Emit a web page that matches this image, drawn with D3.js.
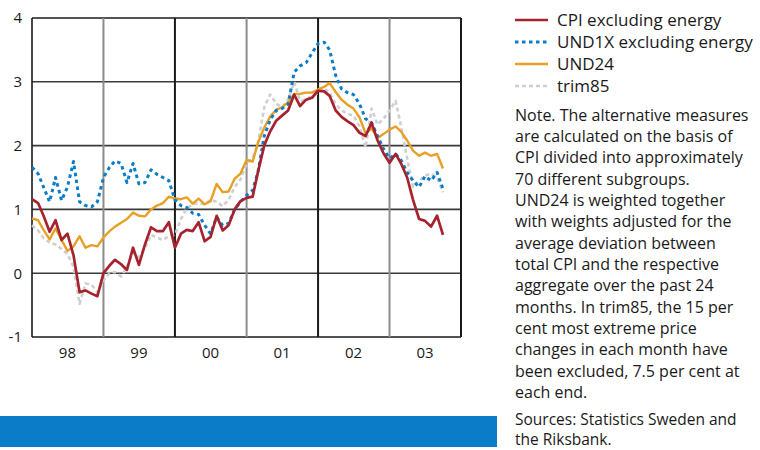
<!DOCTYPE html>
<html>
<head>
<meta charset="utf-8">
<script src="https://cdn.jsdelivr.net/npm/d3@7"></script>
<style>
  body { margin: 0; background: #fff; }
  text { font-family: "Open Sans", sans-serif; fill: #1a1a1a; }
</style>
</head>
<body>
<svg id="chart" width="760" height="450"></svg>
<script>
// Monthly observations, January 1998 to October 2003 (annual percentage change)
const months = d3.timeMonth.range(new Date(1998, 0, 1), new Date(2003, 10, 1));

const cpiExEnergy = [
  1.16, 1.10, 0.90, 0.65, 0.83, 0.52, 0.62, 0.28, -0.30, -0.27, -0.32, -0.36,
  0.00, 0.12, 0.21, 0.14, 0.05, 0.40, 0.13, 0.45, 0.72, 0.66, 0.66, 0.80,
  0.40, 0.62, 0.68, 0.66, 0.80, 0.50, 0.57, 0.90, 0.67, 0.75, 1.00, 1.13,
  1.18, 1.20, 1.60, 2.00, 2.22, 2.39, 2.47, 2.55, 2.80, 2.62, 2.72, 2.75,
  2.86, 2.85, 2.78, 2.55, 2.45, 2.38, 2.32, 2.20, 2.15, 2.36, 2.08, 1.88,
  1.73, 1.87, 1.72, 1.50, 1.15, 0.85, 0.82, 0.73, 0.90, 0.60
];

const und1xExEnergy = [
  1.66, 1.56, 1.35, 1.12, 1.50, 1.14, 1.35, 1.75, 1.12, 1.06, 1.04, 1.12,
  1.50, 1.66, 1.76, 1.72, 1.42, 1.72, 1.40, 1.42, 1.62, 1.55, 1.50, 1.45,
  1.15, 1.06, 1.03, 0.94, 0.92, 0.75, 0.62, 0.88, 0.75, 0.78, 1.00, 1.12,
  1.22, 1.30, 1.60, 2.15, 2.40, 2.55, 2.58, 2.65, 3.15, 3.25, 3.30, 3.45,
  3.60, 3.62, 3.50, 3.10, 2.89, 2.83, 2.80, 2.65, 2.42, 2.36, 2.15, 1.95,
  1.80, 1.87, 1.77, 1.58, 1.45, 1.35, 1.52, 1.45, 1.58, 1.32
];

const und24 = [
  0.86, 0.83, 0.68, 0.53, 0.70, 0.52, 0.35, 0.42, 0.58, 0.40, 0.44, 0.42,
  0.56, 0.66, 0.73, 0.79, 0.85, 0.95, 0.90, 0.89, 1.00, 1.06, 1.10, 1.20,
  1.17, 1.16, 1.19, 1.09, 1.17, 1.08, 1.13, 1.40, 1.27, 1.28, 1.48, 1.56,
  1.78, 1.75, 2.05, 2.28, 2.45, 2.56, 2.60, 2.68, 2.81, 2.81, 2.83, 2.83,
  2.88, 2.92, 2.98, 2.84, 2.72, 2.64, 2.58, 2.44, 2.19, 2.27, 2.12, 2.18,
  2.25, 2.30, 2.22, 2.08, 1.92, 1.84, 1.89, 1.84, 1.87, 1.64
];

const trim85 = [
  0.75, 0.67, 0.55, 0.48, 0.45, 0.38, 0.30, 0.10, -0.48, -0.16, -0.18, -0.30,
  -0.12, 0.00, 0.02, -0.05, 0.10, 0.32, 0.25, 0.40, 0.60, 0.56, 0.52, 0.58,
  0.60, 0.85, 1.02, 1.08, 1.10, 1.08, 1.15, 1.12, 1.05, 1.15, 1.35, 1.47,
  1.72, 1.80, 2.05, 2.60, 2.80, 2.66, 2.60, 2.72, 3.00, 2.70, 2.72, 2.78,
  2.82, 2.90, 2.83, 2.65, 2.55, 2.50, 2.47, 2.30, 1.97, 2.58, 2.33, 2.42,
  2.55, 2.70, 2.30, 1.80, 1.35, 1.45, 1.53, 1.56, 1.50, 1.27
];

const yearLabels = ["98", "99", "00", "01", "02", "03"];
const yTicks = [-1, 0, 1, 2, 3, 4];

const legendItems = [
  "CPI excluding energy",
  "UND1X excluding energy",
  "UND24",
  "trim85"
];

const noteLines = [
  "Note. The alternative measures",
  "are calculated on the basis of",
  "CPI divided into approximately",
  "70 different subgroups.",
  "UND24 is weighted together",
  "with weights adjusted for the",
  "average deviation between",
  "total CPI and the respective",
  "aggregate over the past 24",
  "months. In trim85, the 15 per",
  "cent most extreme price",
  "changes in each month have",
  "been excluded, 7.5 per cent at",
  "each end."
];
const sourceLines = [
  "Sources: Statistics Sweden and",
  "the Riksbank."
];

const svg = d3.select("#chart");
const plot = { left: 32, right: 461, top: 18, bottom: 337 };

const x = d3.scaleTime()
  .domain([new Date(1998, 0, 1), new Date(2004, 0, 1)])
  .range([plot.left, plot.right]);
const y = d3.scaleLinear()
  .domain([-1, 4])
  .range([plot.bottom, plot.top]);

const yearStarts = d3.timeYear.range(new Date(1998, 0, 1), new Date(2005, 0, 1));

// Horizontal gridlines
svg.append("g").selectAll("line").data(yTicks).join("line")
  .attr("x1", plot.left).attr("x2", plot.right)
  .attr("y1", d => y(d)).attr("y2", d => y(d))
  .attr("stroke", d => (d === 4 || d === -1) ? "#1a1a1a" : "#3a3a3a")
  .attr("stroke-width", 1.6);

// Year separators: alternate grey and black
svg.append("g").selectAll("line").data(yearStarts).join("line")
  .attr("x1", d => x(d)).attr("x2", d => x(d))
  .attr("y1", plot.top).attr("y2", plot.bottom)
  .attr("stroke", (d, i) => i === 0 ? "#1a1a1a" : (i % 2 === 1 ? "#8c8c8c" : "#1a1a1a"))
  .attr("stroke-width", (d, i) => i === 0 ? 1.6 : 2);

// Y axis labels
const yAxis = d3.axisLeft(y).tickValues(yTicks).tickSize(0).tickPadding(10)
  .tickFormat(d => String(d));
svg.append("g")
  .attr("transform", `translate(${plot.left},0)`)
  .call(yAxis)
  .call(g => g.select(".domain").remove())
  .call(g => g.selectAll("text")
    .style("font-family", '"Open Sans", sans-serif')
    .style("font-size", "15px").attr("fill", "#1a1a1a"));

// X axis labels, centred in each year
const yearMids = yearStarts.slice(0, 6).map(d => new Date(d.getFullYear(), 6, 1));
svg.append("g").selectAll("text").data(yearMids).join("text")
  .attr("x", d => x(d))
  .attr("y", 358)
  .attr("text-anchor", "middle")
  .style("font-size", "15px")
  .text((d, i) => yearLabels[i]);

const series = [
  { values: trim85, color: "#cfcfcf", width: 2.6, dash: "4,3" },
  { values: und24, color: "#e8a024", width: 2.4, dash: null },
  { values: und1xExEnergy, color: "#0a7cc8", width: 3, dash: "3.5,3.5" },
  { values: cpiExEnergy, color: "#a6232e", width: 2.7, dash: null }
];

const line = d3.line()
  .x((d, i) => x(months[i]))
  .y(d => y(d));

svg.append("g").selectAll("path").data(series).join("path")
  .attr("d", d => line(d.values))
  .attr("fill", "none")
  .attr("stroke", d => d.color)
  .attr("stroke-width", d => d.width)
  .attr("stroke-dasharray", d => d.dash)
  .attr("stroke-linejoin", "round");

// Legend
const legendOrder = [3, 2, 1, 0];
const legend = svg.append("g").selectAll("g").data(legendItems).join("g")
  .attr("transform", (d, i) => `translate(515,${20 + i * 22})`);
legend.append("line")
  .attr("x1", 0).attr("x2", 33).attr("y1", 0).attr("y2", 0)
  .attr("stroke", (d, i) => series[legendOrder[i]].color)
  .attr("stroke-width", (d, i) => series[legendOrder[i]].width)
  .attr("stroke-dasharray", (d, i) => series[legendOrder[i]].dash);
legend.append("text")
  .attr("x", 42).attr("y", 5.5)
  .style("font-size", "17px")
  .text(d => d);

// Note and sources
svg.append("g").selectAll("text").data(noteLines).join("text")
  .attr("x", 515)
  .attr("y", (d, i) => 120.5 + i * 21.35)
  .style("font-size", "16px")
  .text(d => d);
svg.append("g").selectAll("text").data(sourceLines).join("text")
  .attr("x", 515)
  .attr("y", (d, i) => 424.5 + i * 20.5)
  .style("font-size", "15.5px")
  .text(d => d);

// Blue band at the foot of the chart panel
svg.append("rect")
  .attr("x", 0).attr("y", 416)
  .attr("width", 497).attr("height", 31)
  .attr("fill", "#0a7cc8");
</script>
</body>
</html>
